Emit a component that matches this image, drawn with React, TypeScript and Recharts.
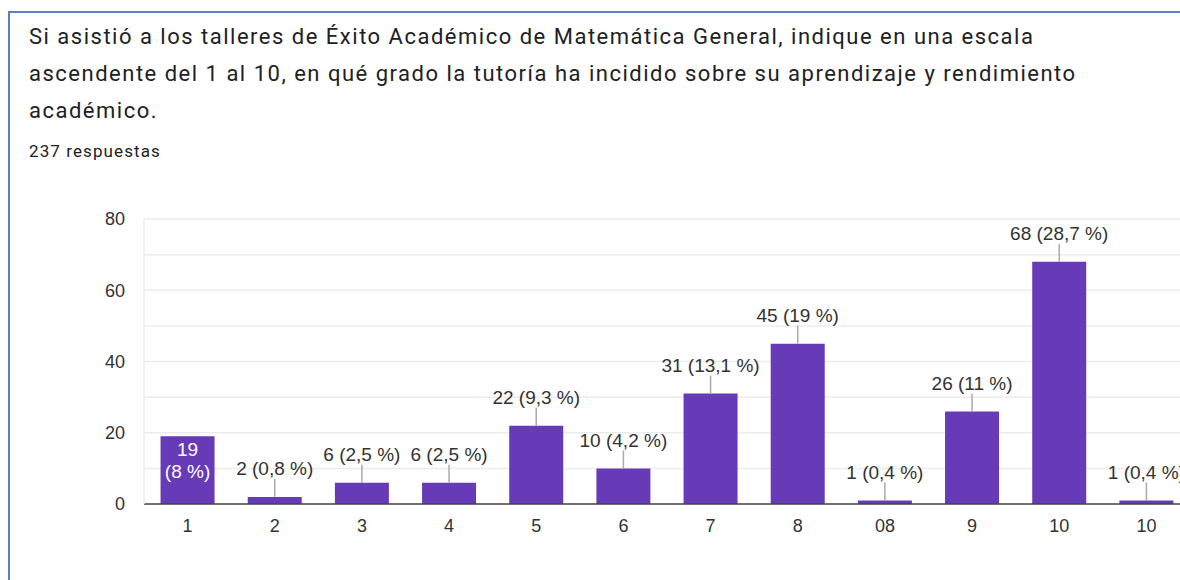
import React from "react";
import { BarChart, Bar, XAxis, YAxis, CartesianGrid, LabelList } from "recharts";

const categories = ["1", "2", "3", "4", "5", "6", "7", "8", "08", "9", "10", "10"];
const counts = [19, 2, 6, 6, 22, 10, 31, 45, 1, 26, 68, 1];
const yTicks = [0, 20, 40, 60, 80];
const gridValues = [0, 10, 20, 30, 40, 50, 60, 70, 80];
const totalResponses = 237;

const titleLines = [
  "Si asistió a los talleres de Éxito Académico de Matemática General, indique en una escala",
  "ascendente del 1 al 10, en qué grado la tutoría ha incidido sobre su aprendizaje y rendimiento",
  "académico.",
];

const pct = (v: number) => {
  const p = Math.round((v / totalResponses) * 1000) / 10;
  const s = Number.isInteger(p) ? String(p) : p.toFixed(1).replace(".", ",");
  return `${s} %`;
};

const data = categories.map((name, i) => ({ name, count: counts[i] }));

const FONT = "Arial, 'Liberation Sans', sans-serif";

const BarLabel = (props: any) => {
  const { x, y, width, value, index } = props;
  const cx = x + width / 2;
  if (index === 0) {
    // first bar is tall enough to hold its label inside
    return (
      <g>
        <text x={cx} y={y + 13} textAnchor="middle" dominantBaseline="central" fill="#fff" fontSize={19} fontFamily={FONT}>
          {value}
        </text>
        <text x={cx} y={y + 35} textAnchor="middle" dominantBaseline="central" fill="#fff" fontSize={19} fontFamily={FONT}>
          ({pct(value)})
        </text>
      </g>
    );
  }
  return (
    <g>
      <line x1={cx} x2={cx} y1={y} y2={y - 18} stroke="#aaaaaa" strokeWidth={1.5} />
      <text x={cx} y={y - 28} textAnchor="middle" dominantBaseline="central" fill="#333" fontSize={19} fontFamily={FONT}>
        {value} ({pct(value)})
      </text>
    </g>
  );
};

const App = () => {
  return (
    <div style={{ position: "absolute", left: 0, top: 0, width: 1180, height: 580, overflow: "hidden", background: "#fff" }}>
      <div
        style={{
          position: "absolute",
          left: 8,
          top: 11,
          width: 1200,
          height: 600,
          borderLeft: "2px solid #5b7fc4",
          borderTop: "2px solid #5b7fc4",
        }}
      />
      <div
        style={{
          position: "absolute",
          left: 29,
          top: 18,
          fontFamily: "Roboto, sans-serif",
          color: "#202124",
          fontSize: 22,
          letterSpacing: 1.5,
          lineHeight: "37px",
        }}
      >
        {titleLines.map((l, i) => (
          <div key={i} style={{ whiteSpace: "nowrap" }}>{l}</div>
        ))}
      </div>
      <div
        style={{
          position: "absolute",
          left: 29,
          top: 141,
          fontFamily: "Roboto, sans-serif",
          color: "#202124",
          fontSize: 17,
          letterSpacing: 1.1,
        }}
      >
        {totalResponses} respuestas
      </div>
      <div style={{ position: "absolute", left: 0, top: 180 }}>
        <BarChart width={1220} height={380} data={data} margin={{ top: 39, right: 30, left: 0, bottom: 26 }} barCategoryGap="19%">
          <CartesianGrid vertical={false} stroke="#ececec" strokeWidth={1.5} horizontalValues={gridValues} />
          <XAxis
            dataKey="name"
            axisLine={{ stroke: "#444", strokeWidth: 1.5 }}
            tickLine={false}
            tickSize={0}
            tickMargin={15}
            height={30}
            tick={{ fill: "#333", fontSize: 18, fontFamily: FONT }}
            interval={0}
          />
          <YAxis
            domain={[0, 80]}
            ticks={yTicks}
            width={144}
            axisLine={{ stroke: "#ececec", strokeWidth: 1.5 }}
            tickLine={false}
            tickSize={0}
            tickMargin={19}
            tick={{ fill: "#333", fontSize: 18, fontFamily: FONT }}
          />
          <Bar dataKey="count" fill="#673ab7" isAnimationActive={false}>
            <LabelList dataKey="count" content={BarLabel} />
          </Bar>
        </BarChart>
      </div>
    </div>
  );
};

export default App;
